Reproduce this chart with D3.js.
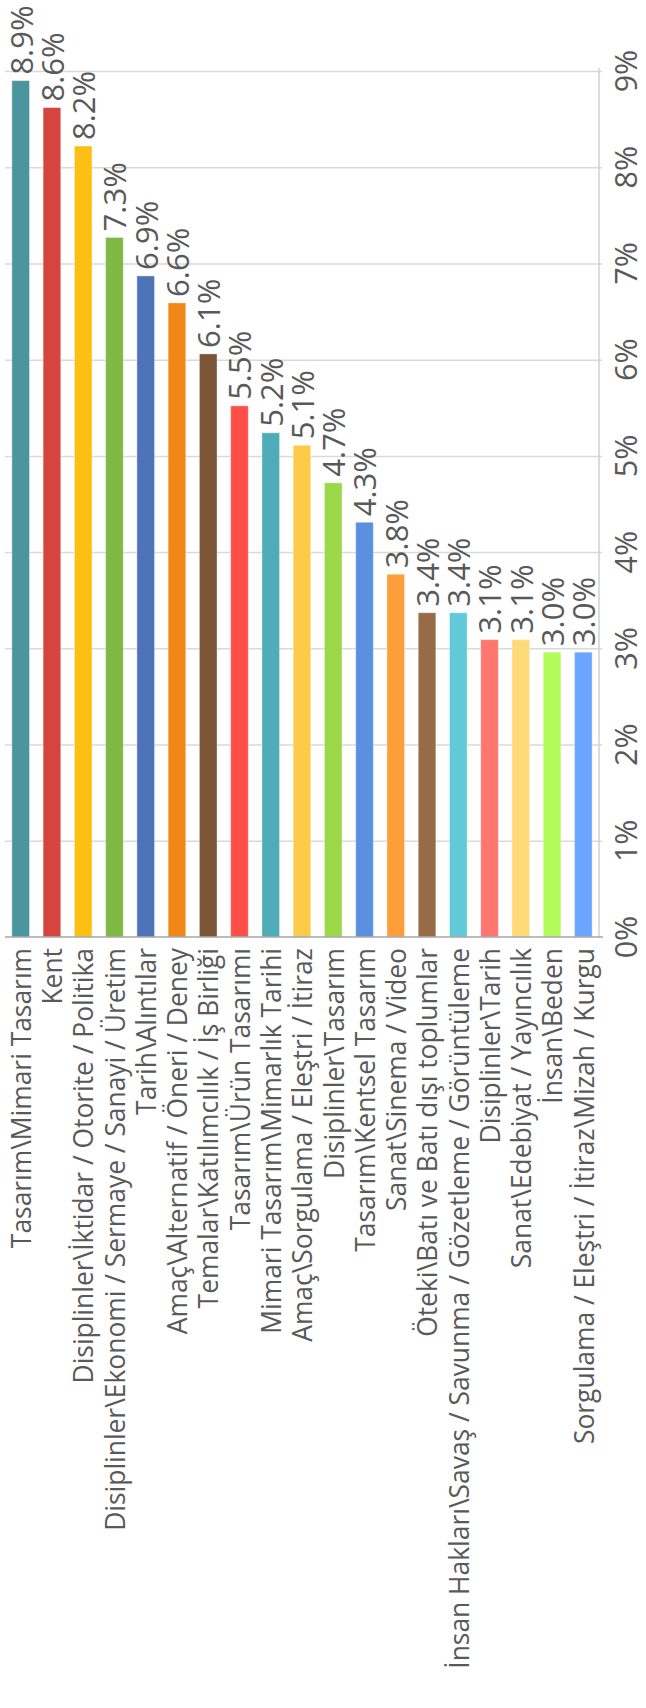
<!DOCTYPE html>
<html>
<head>
<meta charset="utf-8">
<script src="https://cdn.jsdelivr.net/npm/d3@7"></script>
<style>
  html, body { margin: 0; padding: 0; background: #fff; }
  svg { display: block; }
  text { font-family: "Open Sans", "Noto Sans", sans-serif; fill: #595959; }
</style>
</head>
<body>
<svg id="chart" width="646" height="1708"></svg>
<script>
const categories = [
  "Tasarım\\Mimari Tasarım",
  "Kent",
  "Disiplinler\\İktidar / Otorite / Politika",
  "Disiplinler\\Ekonomi / Sermaye / Sanayi / Üretim",
  "Tarih\\Alıntılar",
  "Amaç\\Alternatif / Öneri / Deney",
  "Temalar\\Katılımcılık / İş Birliği",
  "Tasarım\\Ürün Tasarımı",
  "Mimari Tasarım\\Mimarlık Tarihi",
  "Amaç\\Sorgulama / Eleştri / İtiraz",
  "Disiplinler\\Tasarım",
  "Tasarım\\Kentsel Tasarım",
  "Sanat\\Sinema / Video",
  "Öteki\\Batı ve Batı dışı toplumlar",
  "İnsan Hakları\\Savaş / Savunma / Gözetleme / Görüntüleme",
  "Disiplinler\\Tarih",
  "Sanat\\Edebiyat / Yayıncılık",
  "İnsan\\Beden",
  "Sorgulama / Eleştri / İtiraz\\Mizah / Kurgu"
];
const values = [8.90, 8.62, 8.22, 7.27, 6.87, 6.59, 6.06, 5.52, 5.24, 5.11, 4.72, 4.31, 3.77, 3.37, 3.37, 3.09, 3.09, 2.96, 2.96];
const colors = ["#4a959e", "#d5443f", "#fcc015", "#7fb843", "#4d74b8", "#f08718", "#7c5436",
  "#fd4f47", "#4fadb9", "#fecb48", "#9bd94b", "#5b8fdf", "#fe9e3b", "#966b46",
  "#62c9da", "#fe7670", "#feda79", "#b1fc5b", "#6ba6fe"];
const tickValues = [0, 1, 2, 3, 4, 5, 6, 7, 8, 9];

const svg = d3.select("#chart");
const left = 5, right = 599, base = 937, top9 = 71;

const x = d3.scaleBand().domain(categories).range([left, right]).paddingInner(0.437).paddingOuter(0.22);
const y = d3.scaleLinear().domain([0, 9]).range([base, top9]);

// gridlines
const grid = svg.append("g").attr("transform", `translate(${right + 3},0)`)
  .call(d3.axisLeft(y).tickValues(tickValues.filter(t => t > 0)).tickSize(right + 3 - left).tickFormat(""));
grid.select(".domain").remove();
grid.selectAll(".tick line").attr("stroke", "#d9d9d9").attr("stroke-width", 1.5);

// right axis line
svg.append("line")
  .attr("x1", right).attr("x2", right)
  .attr("y1", y(9) - 3).attr("y2", base)
  .attr("stroke", "#d0d0d0").attr("stroke-width", 1.5);

// tick labels
svg.append("g").selectAll("text").data(tickValues).join("text")
  .attr("transform", d => `translate(637,${y(d)}) rotate(-90)`)
  .attr("text-anchor", "middle")
  .style("font-size", "30.5px")
  .text(d => d + "%");

// bars
svg.append("g").selectAll("rect").data(values).join("rect")
  .attr("x", (d, i) => x(categories[i]))
  .attr("width", x.bandwidth())
  .attr("y", d => y(d))
  .attr("height", d => base - y(d))
  .attr("fill", (d, i) => colors[i])
  .attr("stroke", "rgba(255,255,255,0.35)")
  .attr("stroke-width", 1);

// baseline
svg.append("line")
  .attr("x1", left).attr("x2", right + 4)
  .attr("y1", base).attr("y2", base)
  .attr("stroke", "#a6a6a6").attr("stroke-width", 1.5);

// value labels
svg.append("g").selectAll("text").data(values).join("text")
  .attr("transform", (d, i) => `translate(${x(categories[i]) + x.bandwidth() / 2 + 1},${y(d) - 6}) rotate(-90)`)
  .attr("text-anchor", "start")
  .attr("dy", "0.35em")
  .style("font-size", "31px")
  .text(d => d.toFixed(1) + "%");

// category labels
svg.append("g").selectAll("text").data(categories).join("text")
  .attr("transform", (d) => `translate(${x(d) + x.bandwidth() / 2 + 1},${base + 11}) rotate(-90)`)
  .attr("text-anchor", "end")
  .attr("dy", "0.35em")
  .style("font-size", "26.4px")
  .text(d => d);
</script>
</body>
</html>
